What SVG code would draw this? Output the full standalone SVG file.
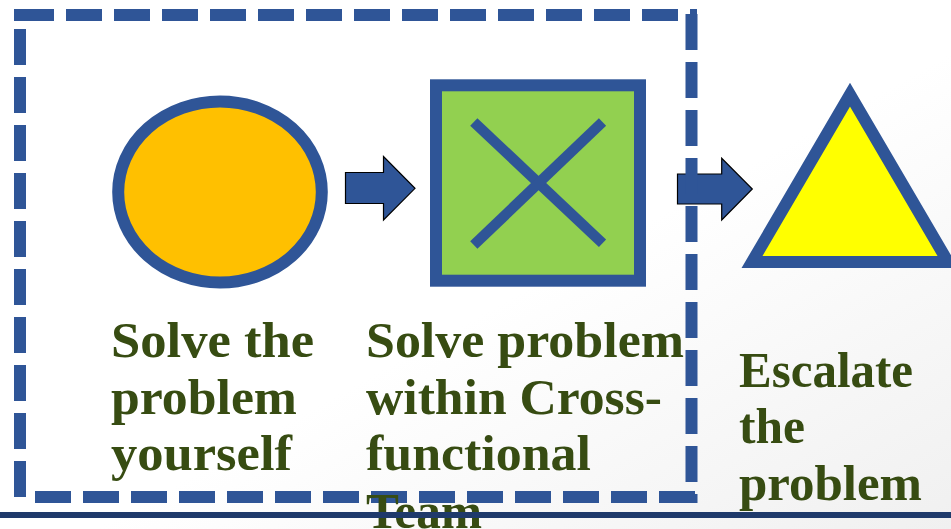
<svg xmlns="http://www.w3.org/2000/svg" width="951" height="529" viewBox="0 0 951 529">
  <defs>
    <linearGradient id="bg" x1="0" y1="0" x2="1" y2="1">
      <stop offset="0" stop-color="#FFFFFF"/>
      <stop offset="0.55" stop-color="#FFFFFF"/>
      <stop offset="1" stop-color="#F0F0F0"/>
    </linearGradient>
    <style>
      .shape { stroke: #2F5597; stroke-width: 12; }
      .arrow { fill: #2F5597; stroke: #000000; stroke-width: 1.2; stroke-linejoin: miter; }
      .dash { stroke: #2F5597; stroke-width: 12; fill: none; stroke-dasharray: 36 12; stroke-linecap: butt; }
      .label { font-family: "Liberation Serif", "Times New Roman", serif; font-weight: bold; font-size: 51px; fill: #374C12; }
    </style>
  </defs>

  <rect x="0" y="0" width="951" height="529" fill="url(#bg)"/>

  <g id="connectors">
    <polygon class="arrow" points="345.5,172.5 383.5,172.5 383.5,156.5 415,188.3 383.5,220 383.5,203.5 345.5,203.5"/>
    <polygon class="arrow" points="677.5,174 721.7,174 721.7,158.3 752.3,189 721.7,220 721.7,204 677.5,204"/>
  </g>

  <g id="boundary">
    <rect x="14" y="9" width="12" height="12" fill="#2F5597"/>
    <path class="dash" d="M18 15 H697"/>
    <path class="dash" d="M20 29 V497"/>
    <path class="dash" d="M691.5 14 V503"/>
    <path class="dash" d="M35 497 H697"/>
  </g>

  <g id="node-circle">
    <ellipse class="shape" cx="220" cy="192" rx="101.8" ry="90.5" fill="#FFC000"/>
    <text class="label"><tspan x="111" y="357" textLength="203" lengthAdjust="spacingAndGlyphs">Solve the</tspan><tspan x="111" y="413.7" textLength="186" lengthAdjust="spacingAndGlyphs">problem</tspan><tspan x="111" y="470.4" textLength="181" lengthAdjust="spacingAndGlyphs">yourself</tspan></text>
  </g>

  <g id="node-square">
    <rect class="shape" x="436" y="85.3" width="204" height="195.4" fill="#92D050"/>
    <line x1="473.8" y1="122" x2="602.5" y2="243.3" stroke="#2F5597" stroke-width="10.5"/>
    <line x1="602.5" y1="122" x2="473.8" y2="245" stroke="#2F5597" stroke-width="10.5"/>
    <text class="label"><tspan x="366" y="357" textLength="318" lengthAdjust="spacingAndGlyphs">Solve problem</tspan><tspan x="366" y="413.7" textLength="296" lengthAdjust="spacingAndGlyphs">within Cross-</tspan><tspan x="366" y="470.4" textLength="225" lengthAdjust="spacingAndGlyphs">functional</tspan><tspan x="366" y="527.5" textLength="116" lengthAdjust="spacingAndGlyphs">Team</tspan></text>
  </g>

  <g id="node-triangle">
    <polygon class="shape" points="850,94.6 752,262 948,262" fill="#FFFF00" stroke-linejoin="miter"/>
    <text class="label"><tspan x="739" y="386.7" textLength="174" lengthAdjust="spacingAndGlyphs">Escalate</tspan><tspan x="739" y="443.3" textLength="66" lengthAdjust="spacingAndGlyphs">the</tspan><tspan x="739" y="500" textLength="183" lengthAdjust="spacingAndGlyphs">problem</tspan></text>
  </g>

  <rect id="baseline-rule" x="0" y="512" width="951" height="6" fill="#1F3A6B"/>
</svg>
